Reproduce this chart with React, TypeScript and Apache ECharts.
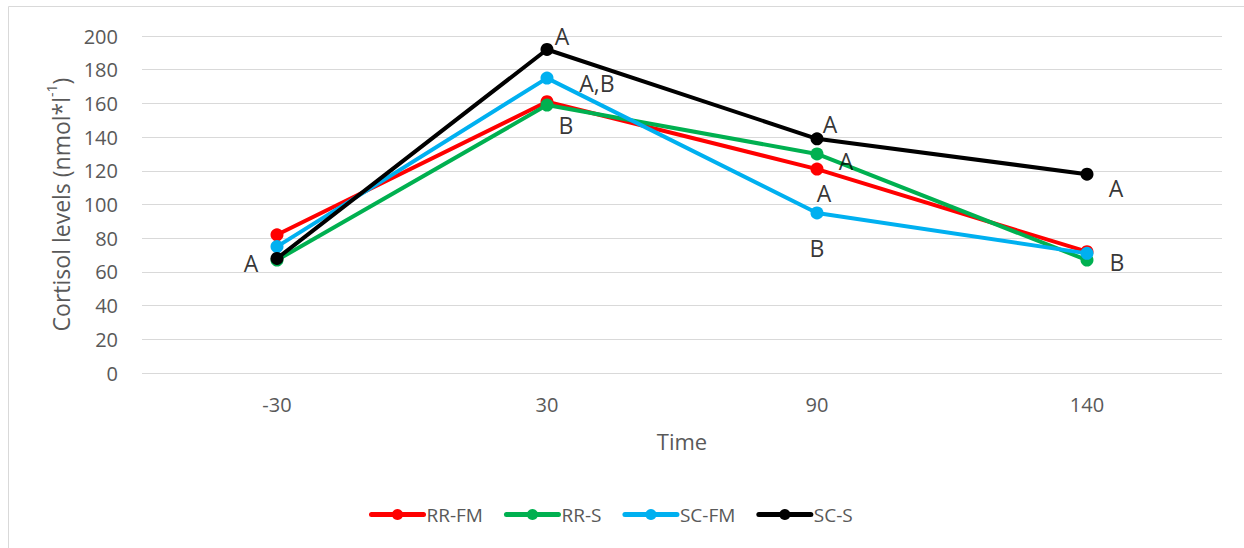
import React, { useEffect, useRef } from "react";
import * as echarts from "echarts";

const categories = ["-30", "30", "90", "140"];
const seriesNames = ["RR-FM", "RR-S", "SC-FM", "SC-S"];
const rrFm = [82, 161, 121, 72];
const rrS = [67, 159, 130, 67];
const scFm = [75, 175, 95, 71];
const scS = [68, 192, 139, 118];
const yTicks = { min: 0, max: 200, interval: 20 };

// annotation letters: [text, category, value, horizontal label shift]
const annotations: [string, string, number, number][] = [
  ["A", "-30", 65, -26],
  ["A", "30", 200, 15],
  ["A,B", "30", 172, 50],
  ["B", "30", 147, 19],
  ["A", "90", 148, 13],
  ["A", "90", 126, 29],
  ["A", "90", 107, 7],
  ["B", "90", 74, 0],
  ["A", "140", 110, 29],
  ["B", "140", 66, 30],
];

const colors = ["#FF0000", "#00B050", "#00B0F0", "#000000"];
const FONT = "'Open Sans', sans-serif";

export default function App() {
  const ref = useRef<HTMLDivElement>(null);
  useEffect(() => {
    if (!ref.current) return;
    const chart = echarts.init(ref.current, undefined, { renderer: "svg" });
    const values = [rrFm, rrS, scFm, scS];
    chart.setOption({
      animation: false,
      backgroundColor: "#ffffff",
      textStyle: { fontFamily: FONT },
      graphic: [
        {
          type: "rect",
          shape: { x: 8.5, y: 6.5, width: 1300, height: 600 },
          style: { fill: "none", stroke: "#d9d9d9", lineWidth: 1 },
          silent: true,
        },
      ],
      grid: { left: 142, right: 22, top: 36, bottom: 175 },
      legend: {
        left: 364,
        top: 500,
        itemWidth: 52,
        itemHeight: 14,
        itemGap: 21,
        data: seriesNames,
        lineStyle: { width: 5, cap: "round" },
        textStyle: { color: "#595959", fontSize: 19, fontFamily: FONT, padding: [0, 0, 0, -2] },
      },
      xAxis: {
        type: "category",
        data: categories,
        boundaryGap: true,
        name: "Time",
        nameLocation: "middle",
        nameGap: 57,
        nameTextStyle: { color: "#595959", fontSize: 22, fontFamily: FONT },
        axisLine: { show: false },
        axisTick: { show: false },
        axisLabel: { color: "#595959", fontSize: 20, margin: 21, fontFamily: FONT },
      },
      yAxis: {
        type: "value",
        min: yTicks.min,
        max: yTicks.max,
        interval: yTicks.interval,
        name: "{a|Cortisol levels (nmol*l}{s|-1}{a|)}",
        nameLocation: "middle",
        nameGap: 67,
        nameTextStyle: {
          rich: {
            a: { color: "#595959", fontSize: 23, fontFamily: FONT, lineHeight: 28, verticalAlign: "bottom" },
            s: { color: "#595959", fontSize: 14, fontFamily: FONT, lineHeight: 28, verticalAlign: "top" },
          },
        },
        axisLine: { show: false },
        axisTick: { show: false },
        axisLabel: { color: "#595959", fontSize: 20, margin: 24, fontFamily: FONT },
        splitLine: { lineStyle: { color: "#d9d9d9", width: 1 } },
      },
      series: [
        ...seriesNames.map((name, i) => ({
          name,
          type: "line",
          data: values[i],
          color: colors[i],
          symbol: "circle",
          symbolSize: 13,
          lineStyle: { width: 4, color: colors[i] },
          itemStyle: { color: colors[i] },
          z: 2 + i,
        })),
        {
          name: "annotations",
          type: "scatter",
          symbolSize: 0,
          silent: true,
          z: 10,
          data: annotations.map(([t, c, v, dx]) => ({
            value: [c, v],
            label: {
              show: true,
              formatter: t,
              position: "inside",
              offset: [dx, 0],
              color: "#000000",
              fontSize: 23,
              fontFamily: FONT,
            },
          })),
        },
      ],
    });
    return () => chart.dispose();
  }, []);
  return <div ref={ref} style={{ width: 1244, height: 548, position: "absolute", left: 0, top: 0 }} />;
}
